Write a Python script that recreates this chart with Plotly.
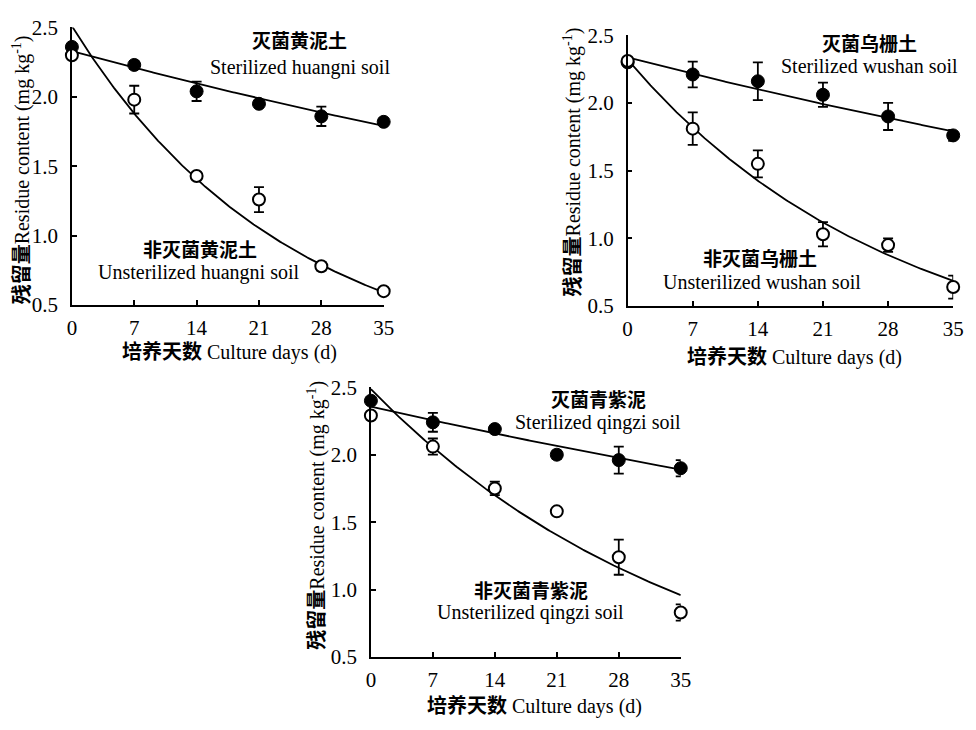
import numpy as np
import plotly.graph_objects as go

days = [0, 7, 14, 21, 28, 35]
x_ticks = [0, 7, 14, 21, 28, 35]
y_ticks = [0.5, 1.0, 1.5, 2.0, 2.5]

# Panel 1: huangni soil
hn_ster = [2.36, 2.23, 2.04, 1.95, 1.86, 1.82]
hn_ster_err = [0.0, 0.03, 0.07, 0.02, 0.07, 0.02]
hn_unst = [2.30, 1.98, 1.43, 1.26, 0.78, 0.60]
hn_unst_err = [0.0, 0.10, 0.02, 0.09, 0.03, 0.02]
# Panel 2: wushan soil
ws_ster = [2.30, 2.21, 2.16, 2.06, 1.90, 1.76]
ws_ster_err = [0.0, 0.095, 0.14, 0.09, 0.10, 0.04]
ws_unst = [2.31, 1.81, 1.55, 1.03, 0.95, 0.64]
ws_unst_err = [0.0, 0.12, 0.10, 0.09, 0.05, 0.085]
# Panel 3: qingzi soil
qz_ster = [2.40, 2.24, 2.19, 2.00, 1.96, 1.90]
qz_ster_err = [0.0, 0.07, 0.02, 0.03, 0.10, 0.06]
qz_unst = [2.29, 2.06, 1.75, 1.58, 1.24, 0.83]
qz_unst_err = [0.0, 0.06, 0.05, 0.0, 0.13, 0.06]

# First-order fit parameters: C0, k  (C = C0*exp(-k t))
hn_fit_ster = [2.33, 0.00753]
hn_fit_unst = [2.51, 0.0413]
ws_fit_ster = [2.336, 0.0076]
ws_fit_unst = [2.32, 0.0348]
qz_fit_ster = [2.357, 0.00631]
qz_fit_unst = [2.486, 0.0272]

panels = [
    dict(ax="", ster=hn_ster, se=hn_ster_err, unst=hn_unst, ue=hn_unst_err,
         fs=hn_fit_ster, fu=hn_fit_unst),
    dict(ax="2", ster=ws_ster, se=ws_ster_err, unst=ws_unst, ue=ws_unst_err,
         fs=ws_fit_ster, fu=ws_fit_unst),
    dict(ax="3", ster=qz_ster, se=qz_ster_err, unst=qz_unst, ue=qz_unst_err,
         fs=qz_fit_ster, fu=qz_fit_unst),
]

fig = go.Figure()
tgrid = np.linspace(0, 35, 200)
for p in panels:
    xa, ya = "x" + p["ax"], "y" + p["ax"]
    for c0, k in (p["fs"], p["fu"]):
        fig.add_trace(go.Scatter(x=tgrid, y=c0 * np.exp(-k * tgrid), mode="lines",
                                 line=dict(color="black", width=1.8),
                                 xaxis=xa, yaxis=ya, showlegend=False, hoverinfo="skip"))
    fig.add_trace(go.Scatter(x=days, y=p["ster"], mode="markers",
                             error_y=dict(type="data", array=p["se"], color="black",
                                          thickness=1.8, width=5),
                             marker=dict(size=13, color="black", line=dict(color="black", width=1)),
                             xaxis=xa, yaxis=ya, showlegend=False, cliponaxis=False))
    fig.add_trace(go.Scatter(x=days, y=p["unst"], mode="markers",
                             error_y=dict(type="data", array=p["ue"], color="black",
                                          thickness=1.8, width=5),
                             marker=dict(size=12, color="white", line=dict(color="black", width=2)),
                             xaxis=xa, yaxis=ya, showlegend=False, cliponaxis=False))

W, H = 976, 730
def px(x):
    return x / W
def py(y):
    return 1 - y / H

font_main = "Liberation Serif, Noto Sans CJK SC, serif"
axis_common = dict(showline=True, linecolor="black", linewidth=1.5, ticks="inside",
                   ticklen=5, tickwidth=1.5, tickcolor="black", showgrid=False,
                   zeroline=False, mirror=False,
                   tickfont=dict(family=font_main, size=21, color="black"))

domains = {
    "": ([px(68), px(385)], [py(303), py(16)]),
    "2": ([px(633), px(964)], [py(304), py(24)]),
    "3": ([px(372), px(687)], [py(667), py(388)]),
}
layout = dict(width=W, height=H, margin=dict(l=0, r=0, t=0, b=0),
              plot_bgcolor="white", paper_bgcolor="white", showlegend=False)
for key, (dx, dy) in domains.items():
    layout["xaxis" + key] = dict(axis_common, domain=dx, range=[0, 35], tickvals=x_ticks,
                                 anchor="y" + key, ticklabelstandoff=3)
    layout["yaxis" + key] = dict(axis_common, domain=dy, range=[0.5, 2.5], tickvals=y_ticks,
                                 tickformat=".1f", anchor="x" + key, ticklabelstandoff=8)
fig.update_layout(**layout)

cn = dict(family="Noto Sans CJK SC, sans-serif", size=19, color="black")
en = dict(family=font_main, size=20, color="black")
texts = [
    ("", 25.6, 2.415, "<b>灭菌黄泥土</b>", cn),
    ("", 25.6, 2.212, "Sterilized huangni soil", en),
    ("", 14.35, 0.910, "<b>非灭菌黄泥土</b>", cn),
    ("", 14.25, 0.735, "Unsterilized huangni soil", en),
    ("2", 26.0, 2.449, "<b>灭菌乌栅土</b>", cn),
    ("2", 26.0, 2.270, "Sterilized wushan soil", en),
    ("2", 14.2, 0.856, "<b>非灭菌乌栅土</b>", cn),
    ("2", 14.4, 0.677, "Unsterilized wushan soil", en),
    ("3", 25.7, 2.413, "<b>灭菌青紫泥</b>", cn),
    ("3", 25.6, 2.240, "Sterilized qingzi soil", en),
    ("3", 18.1, 1.000, "<b>非灭菌青紫泥</b>", cn),
    ("3", 18.0, 0.828, "Unsterilized qingzi soil", en),
]
annotations = []
for key, x, y, t, f in texts:
    annotations.append(dict(xref="x" + key, yref="y" + key, x=x, y=y, text=t, font=f,
                            showarrow=False, xanchor="center", yanchor="middle",
                            borderpad=0))

ytitle = "<b>残留量</b>Residue content (mg kg<sup>-1</sup>)"
xtitle = "<b>培养天数</b> Culture days (d)"
tf = dict(family=font_main, size=20, color="black")
for (x, y) in [(17, 163), (577, 155), (317, 520)]:
    annotations.append(dict(xref="paper", yref="paper", x=px(x), y=py(y), text=ytitle,
                            textangle=-90, font=tf, showarrow=False,
                            xanchor="center", yanchor="middle"))
for (x, y) in [(228, 352), (803, 357), (538, 718)]:
    annotations.append(dict(xref="paper", yref="paper", x=px(x), y=py(y), text=xtitle,
                            font=tf, showarrow=False, xanchor="center", yanchor="middle"))
fig.update_layout(annotations=annotations)

fig.write_html("out.html", config={"displayModeBar": False},
               post_script="document.body.style.margin='0';document.body.style.overflow='hidden';")
